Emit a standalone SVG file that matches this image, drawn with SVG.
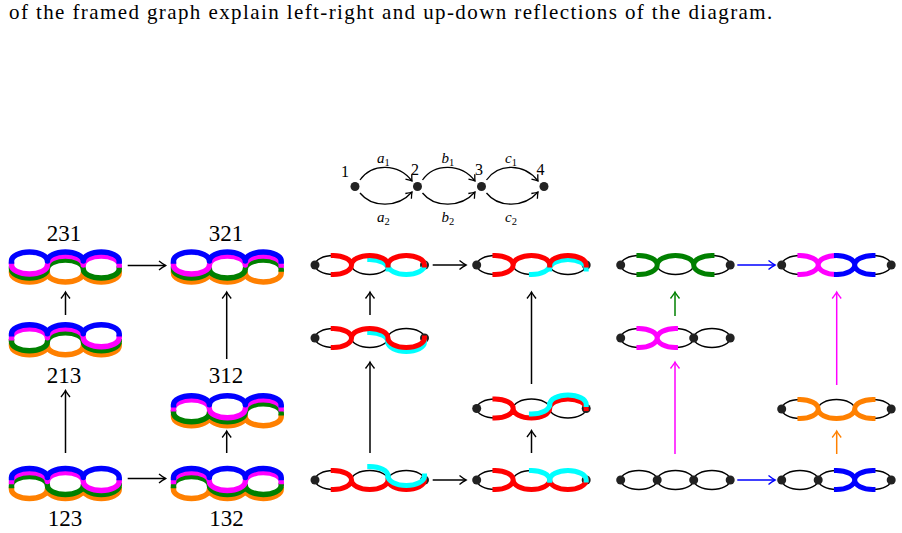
<svg xmlns="http://www.w3.org/2000/svg" xmlns:xlink="http://www.w3.org/1999/xlink" width="902" height="533" viewBox="0 0 902 533">
<style>
.ch{fill:none;stroke:#000;stroke-width:1.4}
.dot{fill:#222}
.st{fill:none;stroke-width:5;stroke-linejoin:round;stroke-linecap:square}
.lc{fill:none;stroke-width:5.5;stroke-linejoin:round;stroke-linecap:square}
.ar{fill:none;stroke-width:1.5}
.ed{fill:none;stroke:#000;stroke-width:1.3}
.num{font-family:'Liberation Serif',serif;font-size:23px;text-anchor:middle;fill:#000}
.vl{font-family:'Liberation Serif',serif;font-size:16px;text-anchor:middle;fill:#000}
.el{font-family:'Liberation Serif',serif;font-size:15px;font-style:italic;fill:#000}
.sub{font-size:10.5px;font-style:normal}
.cap{font-family:'Liberation Serif','DejaVu Serif',serif;font-size:21px;letter-spacing:1.4px;fill:#000}
</style>
<defs>
<marker id="mk" viewBox="-8 -6 10 12" markerWidth="10" markerHeight="12" refX="0" refY="0" orient="auto" markerUnits="userSpaceOnUse"><path d="M-6.5,-4.5 Q-2,-1 0,0 Q-2,1 -6.5,4.5" fill="none" stroke="#000" stroke-width="1.4"/></marker>
<marker id="mks" viewBox="-8 -6 10 12" markerWidth="10" markerHeight="12" refX="0" refY="0" orient="auto" markerUnits="userSpaceOnUse"><path d="M-5.5,-4 Q-1.5,-0.8 0,0 Q-1.5,0.8 -5.5,4" fill="none" stroke="#000" stroke-width="1.3"/></marker>
<marker id="mkb" viewBox="-8 -6 10 12" markerWidth="10" markerHeight="12" refX="0" refY="0" orient="auto" markerUnits="userSpaceOnUse"><path d="M-6.5,-4.5 Q-2,-1 0,0 Q-2,1 -6.5,4.5" fill="none" stroke="#0000ff" stroke-width="1.4"/></marker>
<marker id="mkg" viewBox="-8 -6 10 12" markerWidth="10" markerHeight="12" refX="0" refY="0" orient="auto" markerUnits="userSpaceOnUse"><path d="M-6.5,-4.5 Q-2,-1 0,0 Q-2,1 -6.5,4.5" fill="none" stroke="#008000" stroke-width="1.4"/></marker>
<marker id="mkm" viewBox="-8 -6 10 12" markerWidth="10" markerHeight="12" refX="0" refY="0" orient="auto" markerUnits="userSpaceOnUse"><path d="M-6.5,-4.5 Q-2,-1 0,0 Q-2,1 -6.5,4.5" fill="none" stroke="#ff00ff" stroke-width="1.4"/></marker>
<marker id="mko" viewBox="-8 -6 10 12" markerWidth="10" markerHeight="12" refX="0" refY="0" orient="auto" markerUnits="userSpaceOnUse"><path d="M-6.5,-4.5 Q-2,-1 0,0 Q-2,1 -6.5,4.5" fill="none" stroke="#ff8000" stroke-width="1.4"/></marker>
<path id="LTTT" d="M0,0 A17.95,9 0 0 1 35.9,0 A17.95,9 0 0 1 71.8,0 A17.95,9 0 0 1 107.7,0"/>
<path id="LTTB" d="M0,0 A17.95,9 0 0 1 35.9,0 A17.95,9 0 0 1 71.8,0 A17.95,9 0 0 0 107.7,0"/>
<path id="LTBB" d="M0,0 A17.95,9 0 0 1 35.9,0 A17.95,9 0 0 0 71.8,0 A17.95,9 0 0 0 107.7,0"/>
<path id="LBBB" d="M0,0 A17.95,9 0 0 0 35.9,0 A17.95,9 0 0 0 71.8,0 A17.95,9 0 0 0 107.7,0"/>
<path id="LTBT" d="M0,0 A17.95,9 0 0 1 35.9,0 A17.95,9 0 0 0 71.8,0 A17.95,9 0 0 1 107.7,0"/>
<path id="LBTB" d="M0,0 A17.95,9 0 0 0 35.9,0 A17.95,9 0 0 1 71.8,0 A17.95,9 0 0 0 107.7,0"/>
<path id="LBBT" d="M0,0 A17.95,9 0 0 0 35.9,0 A17.95,9 0 0 0 71.8,0 A17.95,9 0 0 1 107.7,0"/>
<path id="LBTT" d="M0,0 A17.95,9 0 0 0 35.9,0 A17.95,9 0 0 1 71.8,0 A17.95,9 0 0 1 107.7,0"/>
<g id="chain" class="ch"><ellipse cx="18.25" cy="0" rx="18.25" ry="9.5"/><ellipse cx="54.75" cy="0" rx="18.25" ry="9.5"/><ellipse cx="91.25" cy="0" rx="18.25" ry="9.5"/></g>
<g id="ends" class="dot"><circle cx="0" cy="0" r="4.5"/><circle cx="109.5" cy="0" r="4.5"/></g>
<path id="redT" d="M18.25,-9.5 A18.25,9.5 0 0 1 36.5,0 A18.25,9.5 0 0 1 73,0 A18.25,9.5 0 0 1 109.5,0 M18.25,9.5 A18.25,9.5 0 0 0 36.5,0 A18.25,9.5 0 0 1 73,0"/>
<path id="redTB" d="M18.25,-9.5 A18.25,9.5 0 0 1 36.5,0 A18.25,9.5 0 0 1 73,0 A18.25,9.5 0 0 0 109.5,0 M18.25,9.5 A18.25,9.5 0 0 0 36.5,0 A18.25,9.5 0 0 1 73,0"/>
<path id="redBT" d="M18.25,-9.5 A18.25,9.5 0 0 1 36.5,0 A18.25,9.5 0 0 0 73,0 A18.25,9.5 0 0 1 109.5,0 M18.25,9.5 A18.25,9.5 0 0 0 36.5,0 A18.25,9.5 0 0 0 73,0"/>
<path id="redB" d="M18.25,-9.5 A18.25,9.5 0 0 1 36.5,0 A18.25,9.5 0 0 0 73,0 A18.25,9.5 0 0 0 109.5,0 M18.25,9.5 A18.25,9.5 0 0 0 36.5,0 A18.25,9.5 0 0 0 73,0"/>
<path id="T2R" d="M54.75,-9.5 A18.25,9.5 0 0 1 73,0"/>
<path id="B2R" d="M54.75,9.5 A18.25,9.5 0 0 0 73,0"/>
<path id="T3" d="M73,0 A18.25,9.5 0 0 1 109.5,0"/>
<path id="B3" d="M73,0 A18.25,9.5 0 0 0 109.5,0"/>
<path id="X1" d="M18.25,-9.5 A18.25,9.5 0 0 1 36.5,0 A18.25,9.5 0 0 0 54.75,9.5 M18.25,9.5 A18.25,9.5 0 0 0 36.5,0 A18.25,9.5 0 0 1 54.75,-9.5"/>
<path id="X2" d="M54.75,-9.5 A18.25,9.5 0 0 1 73,0 A18.25,9.5 0 0 0 91.25,9.5 M54.75,9.5 A18.25,9.5 0 0 0 73,0 A18.25,9.5 0 0 1 91.25,-9.5"/>
<path id="GT" d="M18.25,-9.5 A18.25,9.5 0 0 1 36.5,0 A18.25,9.5 0 0 1 73,0 A18.25,9.5 0 0 1 91.25,-9.5 M18.25,9.5 A18.25,9.5 0 0 0 36.5,0 A18.25,9.5 0 0 1 73,0 A18.25,9.5 0 0 0 91.25,9.5"/>
<path id="GB" d="M18.25,-9.5 A18.25,9.5 0 0 1 36.5,0 A18.25,9.5 0 0 0 73,0 A18.25,9.5 0 0 1 91.25,-9.5 M18.25,9.5 A18.25,9.5 0 0 0 36.5,0 A18.25,9.5 0 0 0 73,0 A18.25,9.5 0 0 0 91.25,9.5"/>
</defs>
<rect width="902" height="533" fill="#fff"/>
<text class="cap" x="9" y="19">of the framed graph explain left-right and up-down reflections of the diagram.</text>

<g id="framed">
<g class="ed">
<path d="M360,180 C372,163 398,163 412,181" marker-end="url(#mks)"/>
<path d="M360,193 C372,208 398,208 412,192" marker-end="url(#mks)"/>
<path d="M422.5,180 C434.5,163 461,163 475,181" marker-end="url(#mks)"/>
<path d="M422.5,193 C434.5,208 461,208 475,192" marker-end="url(#mks)"/>
<path d="M486.5,180 C498.5,163 524,163 538,181" marker-end="url(#mks)"/>
<path d="M486.5,193 C498.5,208 524,208 538,192" marker-end="url(#mks)"/>
</g>
<g class="dot"><circle cx="355" cy="186.5" r="4.5"/><circle cx="417.5" cy="186.5" r="4.5"/><circle cx="481.5" cy="186.5" r="4.5"/><circle cx="544" cy="186.5" r="4.5"/></g>
<text class="vl" x="345" y="176.5">1</text>
<text class="vl" x="415" y="175">2</text>
<text class="vl" x="479" y="175">3</text>
<text class="vl" x="540.5" y="175">4</text>
<text class="el" x="377" y="162.5">a<tspan class="sub" dy="3">1</tspan></text>
<text class="el" x="377" y="221.5">a<tspan class="sub" dy="3">2</tspan></text>
<text class="el" x="441.5" y="162.5">b<tspan class="sub" dy="3">1</tspan></text>
<text class="el" x="441.5" y="221.5">b<tspan class="sub" dy="3">2</tspan></text>
<text class="el" x="505" y="162.5">c<tspan class="sub" dy="3">1</tspan></text>
<text class="el" x="505" y="221.5">c<tspan class="sub" dy="3">2</tspan></text>
</g>

<g id="p231" transform="translate(11.5,261)">
<use xlink:href="#LBBB" class="lc" stroke="#ff8000" y="12"/>
<use xlink:href="#LBTB" class="lc" stroke="#008000" y="8"/>
<use xlink:href="#LBTT" class="lc" stroke="#ff00ff" y="4"/>
<use xlink:href="#LTTT" class="lc" stroke="#0000ff"/>
</g>
<g id="p321" transform="translate(173.5,261)">
<use xlink:href="#LBBB" class="lc" stroke="#ff8000" y="12"/>
<use xlink:href="#LBBT" class="lc" stroke="#008000" y="8"/>
<use xlink:href="#LBTT" class="lc" stroke="#ff00ff" y="4"/>
<use xlink:href="#LTTT" class="lc" stroke="#0000ff"/>
</g>
<g id="p213" transform="translate(11.5,333.75)">
<use xlink:href="#LBBB" class="lc" stroke="#ff8000" y="12"/>
<use xlink:href="#LBTB" class="lc" stroke="#008000" y="8"/>
<use xlink:href="#LTTB" class="lc" stroke="#ff00ff" y="4"/>
<use xlink:href="#LTTT" class="lc" stroke="#0000ff"/>
</g>
<g id="p312" transform="translate(173.5,404.75)">
<use xlink:href="#LBBB" class="lc" stroke="#ff8000" y="12"/>
<use xlink:href="#LBBT" class="lc" stroke="#008000" y="8"/>
<use xlink:href="#LTBT" class="lc" stroke="#ff00ff" y="4"/>
<use xlink:href="#LTTT" class="lc" stroke="#0000ff"/>
</g>
<g id="p123" transform="translate(11.5,477.5)">
<use xlink:href="#LBBB" class="lc" stroke="#ff8000" y="12"/>
<use xlink:href="#LTBB" class="lc" stroke="#008000" y="8"/>
<use xlink:href="#LTTB" class="lc" stroke="#ff00ff" y="4"/>
<use xlink:href="#LTTT" class="lc" stroke="#0000ff"/>
</g>
<g id="p132" transform="translate(173.5,477.5)">
<use xlink:href="#LBBB" class="lc" stroke="#ff8000" y="12"/>
<use xlink:href="#LTBB" class="lc" stroke="#008000" y="8"/>
<use xlink:href="#LTBT" class="lc" stroke="#ff00ff" y="4"/>
<use xlink:href="#LTTT" class="lc" stroke="#0000ff"/>
</g>
<text class="num" x="64" y="241">231</text>
<text class="num" x="226" y="241">321</text>
<text class="num" x="64" y="383">213</text>
<text class="num" x="226" y="383">312</text>
<text class="num" x="65" y="526">123</text>
<text class="num" x="226.5" y="526">132</text>

<g id="m231" transform="translate(315,265)">
<use xlink:href="#chain"/><use xlink:href="#ends"/>
<use xlink:href="#T2R" class="st" stroke="#00ffff" y="4"/>
<use xlink:href="#B3" class="st" stroke="#00ffff"/>
<use xlink:href="#redT" class="st" stroke="#ff0000"/>
</g>
<g id="m321" transform="translate(476.7,265)">
<use xlink:href="#chain"/><use xlink:href="#ends"/>
<use xlink:href="#B2R" class="st" stroke="#00ffff"/>
<use xlink:href="#T3" class="st" stroke="#00ffff" y="4"/>
<use xlink:href="#redT" class="st" stroke="#ff0000"/>
</g>
<g id="m213" transform="translate(315,338)">
<use xlink:href="#chain"/><use xlink:href="#ends"/>
<use xlink:href="#T2R" class="st" stroke="#00ffff" y="4"/>
<use xlink:href="#B3" class="st" stroke="#00ffff" y="4"/>
<use xlink:href="#redTB" class="st" stroke="#ff0000"/>
</g>
<g id="m312" transform="translate(476.7,408.5)">
<use xlink:href="#chain"/><use xlink:href="#ends"/>
<use xlink:href="#redBT" class="st" stroke="#ff0000"/>
<use xlink:href="#B2R" class="st" stroke="#00ffff" y="-4"/>
<use xlink:href="#T3" class="st" stroke="#00ffff" y="-4"/>
</g>
<g id="m123" transform="translate(315,480)">
<use xlink:href="#chain"/><use xlink:href="#ends"/>
<use xlink:href="#redB" class="st" stroke="#ff0000"/>
<use xlink:href="#T2R" class="st" stroke="#00ffff" y="-4"/>
<use xlink:href="#B3" class="st" stroke="#00ffff" y="-4"/>
</g>
<g id="m132" transform="translate(476.7,480)">
<use xlink:href="#chain"/><use xlink:href="#ends"/>
<use xlink:href="#redB" class="st" stroke="#ff0000"/>
<use xlink:href="#T2R" class="st" stroke="#00ffff"/>
<use xlink:href="#T3" class="st" stroke="#00ffff"/>
</g>

<g id="r231" transform="translate(620.7,265)">
<use xlink:href="#chain"/><use xlink:href="#ends"/>
<use xlink:href="#GT" class="st" stroke="#008000"/>
</g>
<g id="r321" transform="translate(781.7,265)">
<use xlink:href="#chain"/><use xlink:href="#ends"/>
<use xlink:href="#X1" class="st" stroke="#ff00ff"/>
<use xlink:href="#X2" class="st" stroke="#0000ff"/>
</g>
<g id="r213" transform="translate(620.7,338)">
<use xlink:href="#chain"/><use xlink:href="#ends"/>
<circle class="dot" cx="73" cy="0" r="4.5"/>
<use xlink:href="#X1" class="st" stroke="#ff00ff"/>
</g>
<g id="r312" transform="translate(781.7,409)">
<use xlink:href="#chain"/><use xlink:href="#ends"/>
<use xlink:href="#GB" class="st" stroke="#ff8000"/>
</g>
<g id="r123" transform="translate(620.7,480)">
<use xlink:href="#chain"/><use xlink:href="#ends"/>
<circle class="dot" cx="36.5" cy="0" r="4.5"/>
<circle class="dot" cx="73" cy="0" r="4.5"/>
</g>
<g id="r132" transform="translate(781.7,480)">
<use xlink:href="#chain"/><use xlink:href="#ends"/>
<circle class="dot" cx="36.5" cy="0" r="4.5"/>
<use xlink:href="#X2" class="st" stroke="#0000ff"/>
</g>

<g id="connectors" class="ar">
<path d="M127.7,265.5 H165.5" stroke="#000" marker-end="url(#mk)"/>
<path d="M127.7,478.5 H165.5" stroke="#000" marker-end="url(#mk)"/>
<path d="M65.5,315 V292" stroke="#000" marker-end="url(#mk)"/>
<path d="M65.5,453 V390.5" stroke="#000" marker-end="url(#mk)"/>
<path d="M226.7,359 V292" stroke="#000" marker-end="url(#mk)"/>
<path d="M226.7,453 V431" stroke="#000" marker-end="url(#mk)"/>
<path d="M432.7,265 H466" stroke="#000" marker-end="url(#mk)"/>
<path d="M432.7,480 H466" stroke="#000" marker-end="url(#mk)"/>
<path d="M370,315 V292" stroke="#000" marker-end="url(#mk)"/>
<path d="M370,453 V362" stroke="#000" marker-end="url(#mk)"/>
<path d="M531.5,384 V292" stroke="#000" marker-end="url(#mk)"/>
<path d="M531.5,453 V430.5" stroke="#000" marker-end="url(#mk)"/>
<path d="M737.3,265 H775" stroke="#0000ff" marker-end="url(#mkb)"/>
<path d="M737.3,480 H775" stroke="#0000ff" marker-end="url(#mkb)"/>
<path d="M675,316 V292" stroke="#008000" marker-end="url(#mkg)"/>
<path d="M675,454 V362" stroke="#ff00ff" marker-end="url(#mkm)"/>
<path d="M836.7,385 V292" stroke="#ff00ff" marker-end="url(#mkm)"/>
<path d="M836.7,454 V431" stroke="#ff8000" marker-end="url(#mko)"/>
</g>
</svg>
